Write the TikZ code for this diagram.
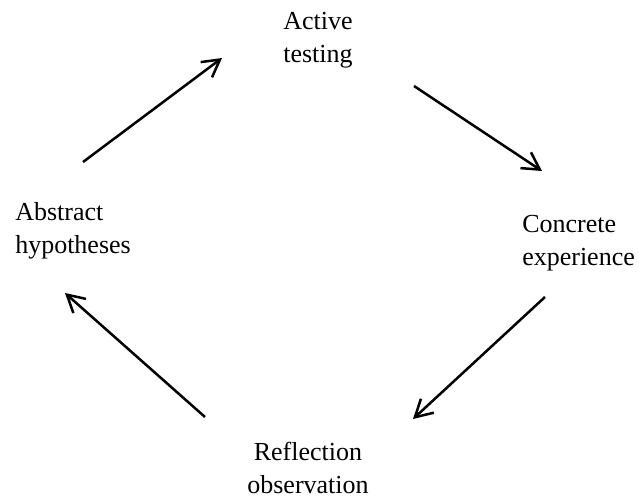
\documentclass[tikz,border=0pt]{standalone}
\usepackage{fontspec}
\setmainfont{Liberation Serif}
\usetikzlibrary{arrows.meta}

\begin{document}
\begin{tikzpicture}[
		x=1pt, y=-1pt,
		line width=2.5pt,
		every node/.style={inner sep=0pt, font=\fontsize{26}{33}\selectfont},
		stage/.style={align=center},
		stage left/.style={align=left, anchor=west},
		cycle arrow/.style={-{Straight Barb[length=17pt, width=19pt]}}
		]
	
	\useasboundingbox (0, 0) rectangle (639, 498);
	
	% Stages
	\node[stage] (act) at (318, 40) {Active\\testing};
	\node[stage left] (con) at (521, 243) {Concrete\\experience};
	\node[stage] (ref) at (308, 468) {Reflection\\observation};
	\node[stage left] (hyp) at (14, 231) {Abstract\\hypotheses};
	
	% Arrow ends
	\coordinate (a1) at (83, 162);
	\coordinate (b1) at (222, 58);
	\coordinate (a2) at (414, 86);
	\coordinate (b2) at (542, 171);
	\coordinate (a3) at (545, 297);
	\coordinate (b3) at (413, 419);
	\coordinate (a4) at (205, 417);
	\coordinate (b4) at (65, 293);
	
	% Cycle
	\draw[cycle arrow] (a1) -- (b1);
	\draw[cycle arrow] (a2) -- (b2);
	\draw[cycle arrow] (a3) -- (b3);
	\draw[cycle arrow] (a4) -- (b4);
	
\end{tikzpicture}
\end{document}
